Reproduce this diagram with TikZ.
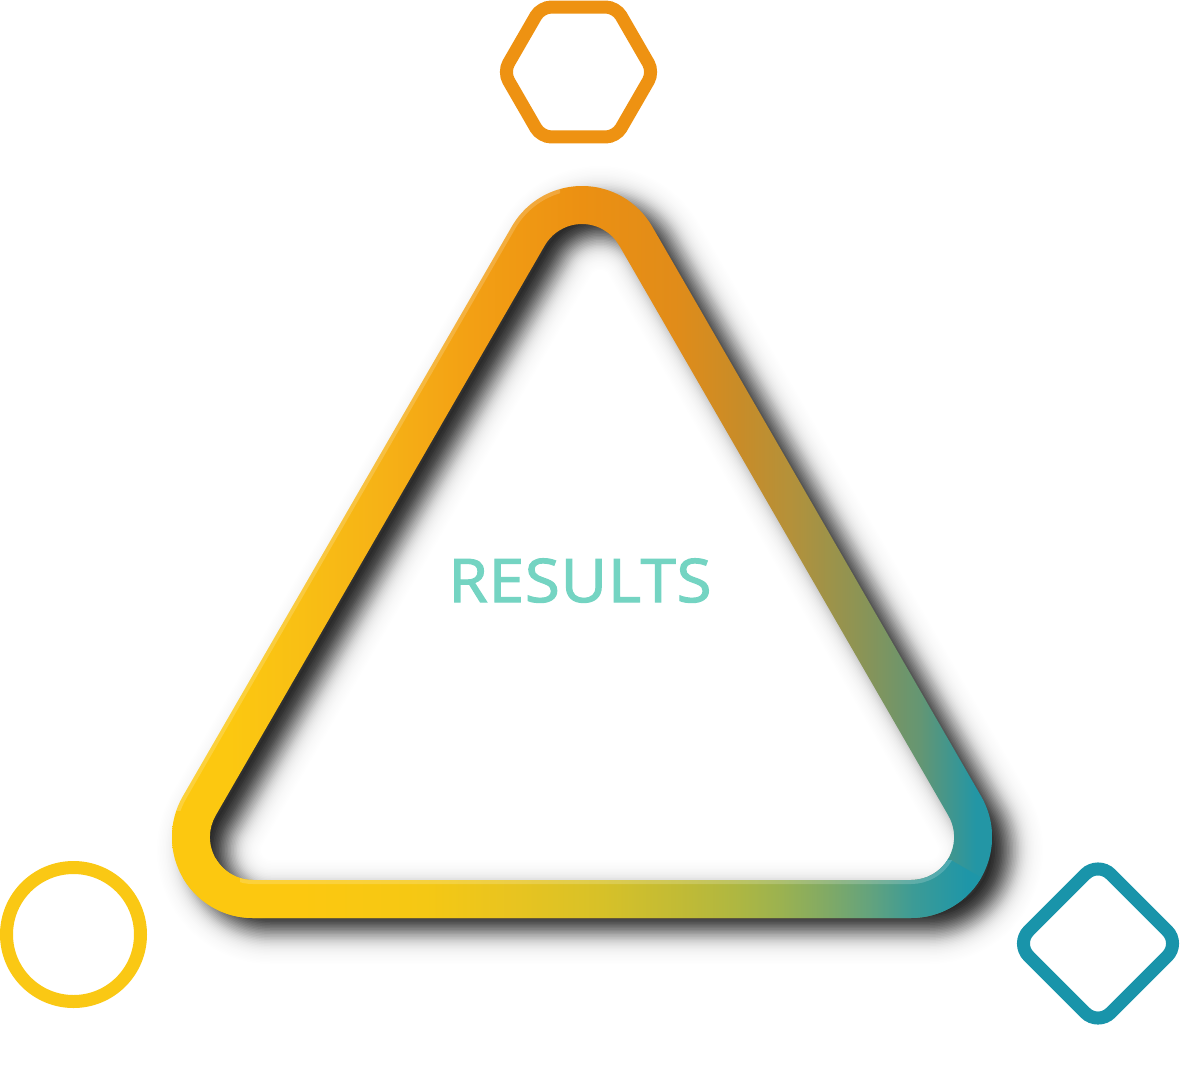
\documentclass[tikz,border=0pt]{standalone}
\usepackage{fontspec}
\newfontfamily\resfont{Open Sans}
\definecolor{orangeC}{RGB}{238,146,18}
\definecolor{yellowC}{RGB}{250,200,20}
\definecolor{tealC}{RGB}{25,148,170}
\definecolor{resC}{RGB}{116,212,194}
% bottom stretch: yellow -> teal
\pgfdeclarehorizontalshading{bandh}{100bp}{%
  rgb(0bp)=(0.988,0.784,0.063);
  rgb(32.8bp)=(0.988,0.784,0.063);
  rgb(40.4bp)=(0.961,0.784,0.078);
  rgb(45.8bp)=(0.910,0.769,0.125);
  rgb(51.2bp)=(0.843,0.757,0.157);
  rgb(56.6bp)=(0.745,0.729,0.216);
  rgb(59.3bp)=(0.686,0.718,0.255);
  rgb(62.1bp)=(0.608,0.698,0.314);
  rgb(64.8bp)=(0.510,0.667,0.392);
  rgb(67.5bp)=(0.392,0.639,0.490);
  rgb(70.2bp)=(0.235,0.608,0.588);
  rgb(73.5bp)=(0.118,0.588,0.659);
  rgb(100bp)=(0.118,0.588,0.659)}
% two slanted sides: yellow -> orange -> teal
\pgfdeclarehorizontalshading{toph}{100bp}{%
  rgb(0bp)=(0.988,0.784,0.063);
  rgb(28.5bp)=(0.988,0.784,0.063);
  rgb(32.5bp)=(0.976,0.753,0.078);
  rgb(37.7bp)=(0.965,0.698,0.086);
  rgb(43.2bp)=(0.953,0.627,0.078);
  rgb(50.0bp)=(0.925,0.565,0.071);
  rgb(55.7bp)=(0.882,0.549,0.098);
  rgb(59.6bp)=(0.784,0.549,0.157);
  rgb(62.7bp)=(0.706,0.569,0.227);
  rgb(66.9bp)=(0.549,0.580,0.333);
  rgb(70.6bp)=(0.392,0.588,0.451);
  rgb(74.0bp)=(0.137,0.588,0.647);
  rgb(100bp)=(0.118,0.588,0.659)}
\tikzset{
  tri/.style={insert path={([shift={(210:#1)}]582,267) arc[start angle=210,end angle=330,radius=#1]
     -- ([shift={(330:#1)}]911.1,837) arc[start angle=330,end angle=450,radius=#1]
     -- ([shift={(90:#1)}]252.9,837) arc[start angle=90,end angle=210,radius=#1] -- cycle}},
  outline/.style={line width=13pt},
  gleam/.style={white, opacity=0.18, line width=8pt}
}
\begin{document}
\begin{tikzpicture}[x=1pt,y=-1pt]
\useasboundingbox (0,0) rectangle (1180,1065);
\fill[white] (0,0) rectangle (1180,1065);
% hidden white text (visible only on the shadow)
\node[anchor=north west, inner sep=0pt, text=white, font=\resfont\fontsize{54}{54}\selectfont] (hid) at (347,650) {T};
% soft shadow of the band
\begin{scope}[shift={(18,13)}]
  \foreach \d in {1,2.5,...,66} {
    \pgfmathsetmacro\fa{0.85/(1+exp(-0.1309*(19-\d)))}
    \pgfmathsetmacro\fb{0.85/(1+exp(-0.1309*(17.5-\d)))}
    \pgfmathsetmacro\op{1-(1-\fa)/(1-\fb)}
    \pgfmathsetmacro\lw{2*\d}
    \draw[black, opacity=\op, line width=\lw pt, tri=62];
  }
\end{scope}
% gradient band
\begin{scope}[even odd rule]
  \clip[tri=81, tri=43];
  \shade[shading=toph] (172,180) rectangle (992,925);
  \begin{scope}
    \clip (582,647) -- (-284,1147) -- (1448,1147) -- cycle;
    \shade[shading=bandh] (172,180) rectangle (992,925);
  \end{scope}
  \begin{scope}
    \clip (0,0) rectangle (560,810);
    \draw[gleam, tri=81];
  \end{scope}
  \begin{scope}
    \clip (240,860) rectangle (960,900);
    \draw[gleam, tri=43];
  \end{scope}
\end{scope}
% text
\node[anchor=base, text=resC, font=\resfont\addfontfeature{FakeBold=2,FakeStretch=1.06,LetterSpace=1.5}\fontsize{60}{60}\selectfont] (res) at (580,602) {RESULTS};
% small shapes
\draw[orangeC, outline, rounded corners=10pt] (653.5,72) -- (616,7.05) -- (541,7.05) -- (503.5,72) -- (541,136.95) -- (616,136.95) -- cycle;
\draw[yellowC, outline] (73.5,934.5) circle[radius=67pt];
\draw[tealC, outline, rounded corners=18pt] (1180,943.5) -- (1098,861.5) -- (1016,943.5) -- (1098,1025.5) -- cycle;
\end{tikzpicture}
\end{document}
